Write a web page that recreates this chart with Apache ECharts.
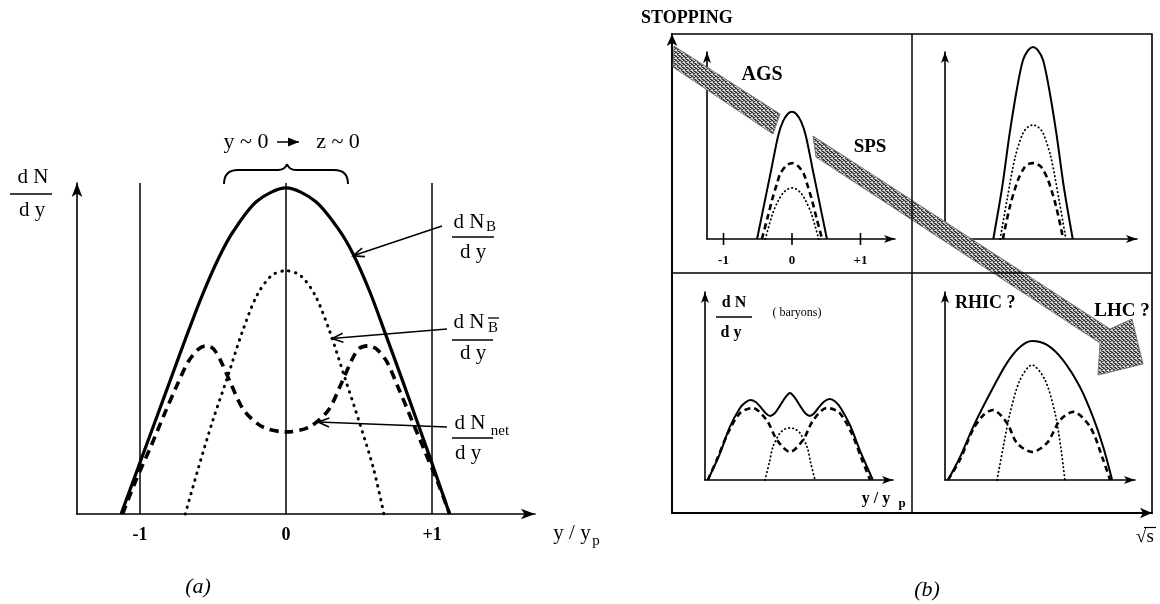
<!DOCTYPE html>
<html><head><meta charset="utf-8">
<script src="https://cdn.jsdelivr.net/npm/echarts@6/dist/echarts.min.js"></script>
<style>html,body{margin:0;padding:0;background:#fff}#c{width:1160px;height:604px}</style>
</head><body><div id="c"></div>
<script>
// ---------- data ----------
const mainTicks = [-1, 0, 1];
const smallTicks = [-1, 0, 1];
// panel (a): x = y/y_p, value = arbitrary dN/dy units
const mainSolid  = [[-1.13,0],[-1.0,15.6],[-0.88,30],[-0.79,40.8],[-0.69,52.8],[-0.575,66],[-0.46,77.5],[-0.36,85.5],[-0.2,94.5],[0,98.5],[0.2,94.5],[0.36,86],[0.46,78.5],[0.575,67],[0.68,54.5],[0.8,40],[0.99,16.5],[1.12,0]];
const mainDotted = [[-0.69,0],[-0.6,14],[-0.5,28.5],[-0.4,41.5],[-0.3,55],[-0.2,66],[-0.1,72],[0,73.5],[0.1,72],[0.2,66],[0.3,55],[0.4,41.5],[0.5,28],[0.6,13.5],[0.67,0]];
const mainDashed = [[-1.12,0],[-1.03,10],[-0.93,20],[-0.84,29.5],[-0.75,38.6],[-0.67,46],[-0.6,49.8],[-0.55,50.8],[-0.5,50],[-0.45,46.5],[-0.38,39.6],[-0.29,31.4],[-0.16,26.3],[0,24.8],[0.16,26.3],[0.29,31.4],[0.38,39.6],[0.45,46.5],[0.5,50],[0.56,50.8],[0.62,49.8],[0.69,46],[0.77,38],[0.86,28.5],[0.95,19],[1.04,9.5],[1.12,0]];
// panel (b) AGS
const agsSolid  = [[-0.51,0],[-0.4,19.7],[-0.3,37.6],[-0.2,55.5],[-0.13,63],[-0.06,67],[0,68],[0.06,67],[0.13,63],[0.2,55.5],[0.3,37.6],[0.4,19.7],[0.51,0]];
const agsDashed = [[-0.44,0],[-0.36,11],[-0.29,21],[-0.22,29.5],[-0.17,35],[-0.08,39.3],[0,40.6],[0.08,39.3],[0.17,35],[0.22,29.5],[0.29,21],[0.36,11],[0.44,0]];
const agsDotted = [[-0.39,0],[-0.28,13.9],[-0.2,20.5],[-0.13,24.6],[-0.06,26.7],[0,27.3],[0.06,26.7],[0.13,24.6],[0.2,20.5],[0.28,13.9],[0.39,0]];
// SPS
const spsSolid  = [[-0.58,0],[-0.45,27.8],[-0.34,56.7],[-0.23,81.3],[-0.146,95.7],[-0.07,101],[0,102.7],[0.07,101],[0.146,95.7],[0.23,81.3],[0.34,56.7],[0.45,27.8],[0.58,0]];
const spsDotted = [[-0.48,0],[-0.38,20.9],[-0.26,43.9],[-0.146,56.7],[-0.07,60],[0,61],[0.07,60],[0.146,56.7],[0.26,43.9],[0.38,20.9],[0.48,0]];
const spsDashed = [[-0.44,0],[-0.34,17],[-0.22,31.5],[-0.12,38.5],[-0.05,40.3],[0,40.6],[0.05,40.3],[0.12,38.5],[0.22,31.5],[0.34,17],[0.44,0]];
// bottom-left (baryons)
const blSolid  = [[-1.2,0],[-1.02,14.4],[-0.88,28.3],[-0.73,38.5],[-0.65,41.5],[-0.58,42.8],[-0.5,41.7],[-0.42,38.6],[-0.35,35.5],[-0.29,34.2],[-0.22,35.8],[-0.15,39.5],[-0.07,44],[0,46.5],[0.07,44],[0.15,39.5],[0.22,35.8],[0.29,34.2],[0.35,35.5],[0.42,38.8],[0.5,42],[0.58,43.3],[0.66,42],[0.74,38.5],[0.88,29],[1.03,15],[1.21,0]];
const blDashed = [[-1.2,0],[-1.07,10.7],[-0.905,25.1],[-0.73,35.8],[-0.55,38.5],[-0.34,32],[-0.19,21.4],[0,15],[0.19,21.4],[0.34,32],[0.54,38.5],[0.72,36],[0.9,25],[1.05,11],[1.17,0]];
const blDotted = [[-0.365,0],[-0.3,9.5],[-0.25,17.6],[-0.146,25.1],[-0.07,27.3],[0,27.8],[0.07,27.3],[0.146,25.1],[0.25,17.6],[0.3,9.5],[0.365,0]];
// bottom-right (RHIC / LHC)
const brSolid  = [[-1.226,0],[-1.05,12.3],[-0.86,28.3],[-0.61,46.5],[-0.365,62.6],[-0.175,71.1],[0,74.3],[0.22,72.2],[0.45,64.2],[0.70,49.7],[0.89,33.7],[1.04,17.6],[1.17,0]];
const brDotted = [[-0.51,0],[-0.42,17.6],[-0.32,35.8],[-0.175,53.5],[0,61.5],[0.19,53.5],[0.336,35.8],[0.42,17.6],[0.48,0]];
const brDashed = [[-1.226,0],[-1.05,11],[-0.86,27],[-0.7,35],[-0.57,37.4],[-0.365,30.5],[-0.22,19.8],[0,15],[0.22,19.8],[0.41,32],[0.6,36.4],[0.85,28.3],[1.04,10.7],[1.14,0]];

// ---------- chart ----------
const SERIF = '"Liberation Serif", "DejaVu Serif", serif';
const chart = echarts.init(document.getElementById('c'), null, {renderer: 'canvas'});

const grids = [
  {left: 77,  top: 183, width: 458, height: 331},
  {left: 707, top: 52,  width: 188, height: 187},
  {left: 945, top: 52,  width: 192, height: 187},
  {left: 705, top: 292, width: 188, height: 188},
  {left: 945, top: 292, width: 190, height: 188},
  {left: 672, top: 34,  width: 480, height: 479, show: true, borderColor: '#000', borderWidth: 1.6}
];
const xr = [[-1.432, 1.705], [-1.241, 1.504], [-1.285, 1.518], [-1.241, 1.504], [-1.27, 1.504], [0, 1]];
const yr = [[0, 100], [0, 100], [0, 100], [0, 100.5], [0, 100.5], [0, 1]];

function axLine(w, size) {
  return {show: true, onZero: false, lineStyle: {color: '#000', width: w}, symbol: ['none', 'arrow'], symbolSize: size};
}
const xAxis = xr.map((r, i) => {
  const a = {gridIndex: i, type: 'value', min: r[0], max: r[1], splitLine: {show: false},
    axisLine: axLine(1.6, i === 0 ? [8, 14] : [6, 11]),
    axisTick: {show: false}, axisLabel: {show: false}};
  if (i === 0) {
    a.axisLabel = {show: true, customValues: mainTicks, formatter: v => v > 0 ? '+' + v : String(v),
      color: '#000', fontFamily: SERIF, fontSize: 18, fontWeight: 'bold', margin: 12};
  }
  if (i === 1) {
    a.axisLabel = {show: true, customValues: smallTicks, formatter: v => v > 0 ? '+' + v : String(v),
      color: '#000', fontFamily: SERIF, fontSize: 13, fontWeight: 'bold', margin: 15};
  }
  if (i === 5) a.axisLine = axLine(1.8, [8, 12]);
  return a;
});
const yAxis = yr.map((r, i) => ({gridIndex: i, type: 'value', min: r[0], max: r[1], splitLine: {show: false},
  axisLine: i === 5 ? axLine(1.8, [8, 12]) : axLine(1.6, i === 0 ? [8, 14] : [6, 11]),
  axisTick: {show: false}, axisLabel: {show: false}}));

function line(gi, data, kind, big) {
  const ls = {color: '#000'};
  if (kind === 'solid') { ls.width = big ? 3.2 : 2; ls.type = 'solid'; }
  if (kind === 'dashed') { ls.width = big ? 3.6 : 2.6; ls.type = big ? [9, 6] : [6, 4]; }
  if (kind === 'dotted') { ls.width = big ? 3 : 1.8; ls.type = big ? [0.5, 6.5] : [0.5, 3.5]; ls.cap = 'round'; }
  return {type: 'line', xAxisIndex: gi, yAxisIndex: gi, data, showSymbol: false, smooth: 0.3,
    clip: false, silent: true, lineStyle: ls, z: 3};
}

const series = [
  line(0, mainSolid, 'solid', true), line(0, mainDotted, 'dotted', true), line(0, mainDashed, 'dashed', true),
  line(1, agsSolid, 'solid'), line(1, agsDashed, 'dashed'), line(1, agsDotted, 'dotted'),
  line(2, spsSolid, 'solid'), line(2, spsDotted, 'dotted'), line(2, spsDashed, 'dashed'),
  line(3, blSolid, 'solid'), line(3, blDashed, 'dashed'), line(3, blDotted, 'dotted'),
  line(4, brSolid, 'solid'), line(4, brDotted, 'dotted'), line(4, brDashed, 'dashed')
];
series[0].markLine = {silent: true, symbol: 'none', label: {show: false},
  lineStyle: {color: '#000', width: 1.5, type: 'solid'},
  data: mainTicks.map(t => [{coord: [t, 0]}, {coord: [t, 100]}])};

chart.setOption({animation: false, backgroundColor: '#fff', grid: grids, xAxis, yAxis, series});

// ---------- annotations ----------
function T(x, y, text, font, align) {
  return {type: 'text', x, y, z: 100, style: {text, font, fill: '#000', align: align || 'center', verticalAlign: 'middle', textAlign: align || 'center', textVerticalAlign: 'middle'}};
}
function L(x1, y1, x2, y2, w) {
  return {type: 'line', z: 100, shape: {x1, y1, x2, y2}, style: {stroke: '#000', lineWidth: w || 1.5}};
}
function Q(x1, y1, cx, cy, x2, y2) {
  return {type: 'bezierCurve', z: 100, shape: {x1, y1, x2, y2, cpx1: cx, cpy1: cy}, style: {stroke: '#000', lineWidth: 2, fill: null}};
}
function arrow(x1, y1, x2, y2, filled) {
  const dx = x2 - x1, dy = y2 - y1, len = Math.hypot(dx, dy), ux = dx / len, uy = dy / len, nx = -uy, ny = ux;
  const h = 11, hw = 4.5;
  const pts = [[x2 - ux * h + nx * hw, y2 - uy * h + ny * hw], [x2, y2], [x2 - ux * h - nx * hw, y2 - uy * h - ny * hw]];
  return [L(x1, y1, x2, y2, 1.5), filled
    ? {type: 'polygon', z: 100, shape: {points: pts}, style: {fill: '#000'}}
    : {type: 'polyline', z: 100, shape: {points: pts}, style: {stroke: '#000', lineWidth: 1.6, fill: null}}];
}
const px = (g, p) => chart.convertToPixel({gridIndex: g}, p);
const f21 = '21px ' + SERIF, f14 = '15px ' + SERIF;

const tipB = px(0, [0.459, 78]), tipBbar = px(0, [0.315, 53]), tipNet = px(0, [0.22, 27.8]);
// crossing tick marks on the AGS axis
const agsTicks = smallTicks.map(t => { const p = px(1, [t, 0]); return L(p[0], p[1] - 6, p[0], p[1] + 6, 1.6); });

// band texture
const pc = document.createElement('canvas'); pc.width = 4; pc.height = 4;
const cx = pc.getContext('2d'); cx.fillStyle = '#b0b0b0'; cx.fillRect(0, 0, 4, 4);
cx.fillStyle = '#363636'; [[0,0],[2,1],[1,2],[3,3],[3,0],[1,1],[2,3]].forEach(p => cx.fillRect(p[0], p[1], 1, 1));
cx.fillStyle = '#e6e6e6'; [[2,0],[0,2],[3,2]].forEach(p => cx.fillRect(p[0], p[1], 1, 1));
const bandFill = {image: pc, repeat: 'repeat'};

const g = [
  // panel (a) labels
  T(33, 177, 'd N', f21), L(10, 194, 52, 194, 1.6), T(32, 210, 'd y', f21),
  T(246, 142, 'y ~ 0', '22px ' + SERIF), T(338, 142, 'z ~ 0', '22px ' + SERIF),
  ...arrow(277, 142, 299, 142, true),
  Q(224, 184, 224, 170, 238, 170), L(238, 170, 278, 170, 2), Q(278, 170, 285, 170, 287, 164),
  Q(287, 164, 289, 170, 296, 170), L(296, 170, 334, 170, 2), Q(334, 170, 348, 170, 348, 184),
  T(469, 222, 'd N', f21), T(491, 227, 'B', f14), L(452, 237, 494, 237, 1.6), T(473, 252, 'd y', f21),
  T(469, 322, 'd N', f21), T(493, 328, 'B', f14), L(488, 318, 499, 318, 1.3), L(452, 340, 493, 340, 1.6), T(473, 353, 'd y', f21),
  T(470, 423, 'd N', f21), T(500, 431, 'net', f14), L(452, 438, 493, 438, 1.6), T(468, 453, 'd y', f21),
  ...arrow(442, 226, tipB[0], tipB[1]),
  ...arrow(447, 329, tipBbar[0], tipBbar[1]),
  ...arrow(447, 427, tipNet[0], tipNet[1]),
  T(572, 533, 'y / y', f21), T(596, 541, 'p', f14),
  T(198, 587, '(a)', 'italic 22px ' + SERIF),
  // panel (b)
  ...agsTicks,
  L(912, 34, 912, 513, 1.5), L(672, 273, 1152, 273, 1.5),
  T(641, 18, 'STOPPING', 'bold 18px ' + SERIF, 'left'),
  T(734, 303, 'd N', 'bold 16px ' + SERIF), L(716, 317, 752, 317, 1.5), T(731, 333, 'd y', 'bold 16px ' + SERIF),
  T(797, 313, '( baryons)', '12px ' + SERIF),
  T(876, 499, 'y / y', 'bold 16px ' + SERIF), T(902, 504, 'p', 'bold 13px ' + SERIF),
  T(955, 303, 'RHIC ?', 'bold 18px ' + SERIF, 'left'),
  {type: 'polygon', z: 90, shape: {points: [[674,46],[780,114],[773,134],[673,67]]}, style: {fill: bandFill, stroke: '#777', lineWidth: 1}},
  {type: 'polygon', z: 90, shape: {points: [[813,136],[1110,329],[1132,319],[1143,364],[1098,375],[1100,343],[816,157]]}, style: {fill: bandFill, stroke: '#777', lineWidth: 1}},
  T(762, 75, 'AGS', 'bold 20px ' + SERIF), T(870, 147, 'SPS', 'bold 19px ' + SERIF),
  T(1122, 311, 'LHC ?', 'bold 19px ' + SERIF),
  T(1145, 537, '√s', '19px ' + SERIF), L(1144, 527.5, 1156, 527.5, 1.2),
  T(927, 590, '(b)', 'italic 22px ' + SERIF)
];
chart.setOption({graphic: g});
</script></body></html>
